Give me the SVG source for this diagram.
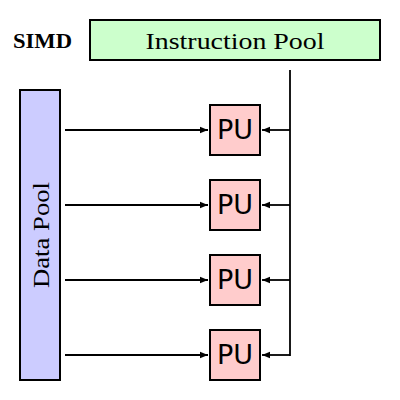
<svg xmlns="http://www.w3.org/2000/svg" width="400" height="400" viewBox="0 0 400 400">
<style>
.box{stroke:#000;stroke-width:2}
.pu{fill:#ffcccc}
.conn{stroke:#000;stroke-width:1.8;fill:none}
.serif{font-family:"Liberation Serif","DejaVu Serif",serif}
.sans{font-family:"DejaVu Sans","Noto Sans",sans-serif}
</style>
<defs>
<marker id="ah" viewBox="0 0 10 10" refX="10" refY="5" markerWidth="8" markerHeight="8" markerUnits="userSpaceOnUse" orient="auto">
<path d="M0,1 L10,5 L0,9 Z" fill="#000"/>
</marker>
</defs>
<rect width="400" height="400" fill="#fff"/>
<text x="13" y="48" class="serif" font-weight="bold" font-size="22" textLength="59" lengthAdjust="spacingAndGlyphs">SIMD</text>
<g id="instruction-pool">
<rect class="box" x="90" y="20" width="290" height="40" fill="#ccffcc"/>
<text x="235" y="49" class="serif" font-size="24" text-anchor="middle" textLength="179" lengthAdjust="spacingAndGlyphs">Instruction Pool</text>
</g>
<g id="data-pool">
<rect class="box" x="20" y="90" width="40" height="290" fill="#ccccff"/>
<text transform="translate(49,235) rotate(-90)" class="serif" font-size="24" text-anchor="middle" textLength="106" lengthAdjust="spacingAndGlyphs">Data Pool</text>
</g>
<g id="pu1"><rect class="box pu" x="210" y="105" width="50" height="50"/><text x="235" y="139" class="sans" font-size="27" text-anchor="middle">PU</text></g>
<g id="pu2"><rect class="box pu" x="210" y="180" width="50" height="50"/><text x="235" y="214" class="sans" font-size="27" text-anchor="middle">PU</text></g>
<g id="pu3"><rect class="box pu" x="210" y="255" width="50" height="50"/><text x="235" y="289" class="sans" font-size="27" text-anchor="middle">PU</text></g>
<g id="pu4"><rect class="box pu" x="210" y="330" width="50" height="50"/><text x="235" y="364" class="sans" font-size="27" text-anchor="middle">PU</text></g>
<g id="connectors">
<line class="conn" x1="65" y1="130" x2="208" y2="130" marker-end="url(#ah)"/>
<line class="conn" x1="65" y1="205" x2="208" y2="205" marker-end="url(#ah)"/>
<line class="conn" x1="65" y1="280" x2="208" y2="280" marker-end="url(#ah)"/>
<line class="conn" x1="65" y1="355" x2="208" y2="355" marker-end="url(#ah)"/>
<line class="conn" x1="290" y1="70" x2="290" y2="355.9"/>
<line class="conn" x1="290" y1="130" x2="262" y2="130" marker-end="url(#ah)"/>
<line class="conn" x1="290" y1="205" x2="262" y2="205" marker-end="url(#ah)"/>
<line class="conn" x1="290" y1="280" x2="262" y2="280" marker-end="url(#ah)"/>
<line class="conn" x1="290" y1="355" x2="262" y2="355" marker-end="url(#ah)"/>
</g>
</svg>
